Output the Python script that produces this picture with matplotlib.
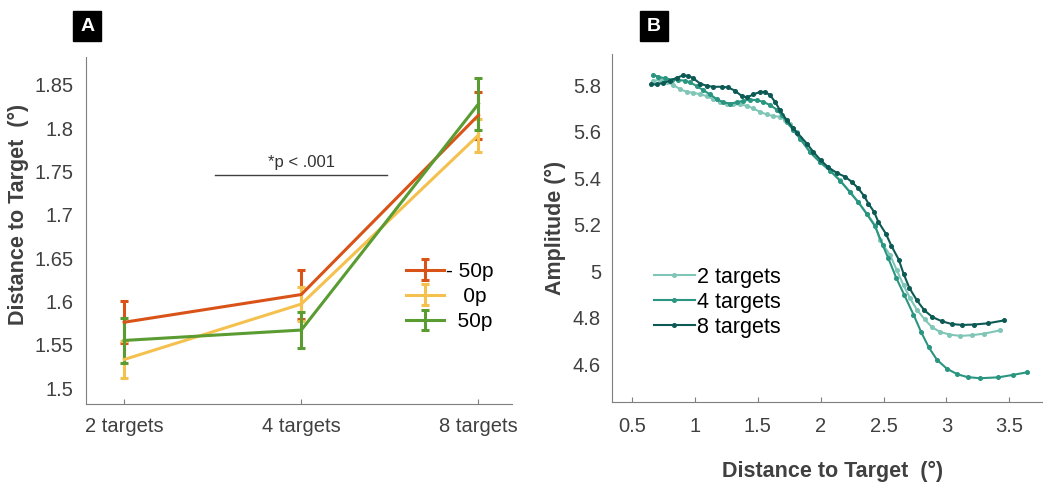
import matplotlib.pyplot as plt
import numpy as np

plt.rcParams['font.family'] = ['Liberation Sans', 'DejaVu Sans']

# --- панель A: расстояние до цели ---
conditions = ['2 targets', '4 targets', '8 targets']
m50_mean = [1.576, 1.608, 1.815]
m50_err = [0.024, 0.028, 0.027]
p0_mean = [1.533, 1.597, 1.792]
p0_err = [0.021, 0.020, 0.019]
p50_mean = [1.555, 1.567, 1.828]
p50_err = [0.026, 0.021, 0.030]

# --- панель B: амплитуда от расстояния ---
x2 = [0.669, 0.723, 0.776, 0.829, 0.882, 0.935, 0.988, 1.041, 1.094, 1.147, 1.200,
      1.253, 1.306, 1.359, 1.412, 1.465, 1.518, 1.571, 1.624, 1.677, 1.717, 1.757,
      1.810, 1.837, 1.916, 1.996, 2.075, 2.155, 2.234, 2.300, 2.367, 2.433, 2.473,
      2.553, 2.606, 2.659, 2.712, 2.765, 2.826, 2.884, 2.950, 3.024, 3.109, 3.202,
      3.303, 3.427]
y2 = [5.819, 5.822, 5.814, 5.800, 5.783, 5.771, 5.767, 5.761, 5.753, 5.740, 5.728,
      5.721, 5.718, 5.717, 5.711, 5.700, 5.685, 5.674, 5.667, 5.664, 5.652, 5.632,
      5.599, 5.573, 5.515, 5.470, 5.434, 5.391, 5.341, 5.298, 5.248, 5.198, 5.133,
      5.069, 5.004, 4.940, 4.883, 4.835, 4.794, 4.760, 4.739, 4.728, 4.722, 4.725,
      4.732, 4.746]

x4 = [0.665, 0.710, 0.763, 0.816, 0.869, 0.922, 0.961, 1.015, 1.067, 1.121, 1.174,
      1.226, 1.280, 1.333, 1.385, 1.439, 1.492, 1.545, 1.598, 1.651, 1.691, 1.731,
      1.783, 1.837, 1.916, 1.996, 2.075, 2.155, 2.234, 2.300, 2.367, 2.433, 2.494,
      2.539, 2.600, 2.666, 2.738, 2.799, 2.860, 2.924, 3.004, 3.088, 3.168, 3.268,
      3.414, 3.526, 3.645]
y4 = [5.843, 5.836, 5.829, 5.824, 5.822, 5.819, 5.812, 5.796, 5.778, 5.760, 5.740,
      5.726, 5.721, 5.726, 5.733, 5.738, 5.735, 5.728, 5.714, 5.695, 5.671, 5.642,
      5.606, 5.569, 5.511, 5.468, 5.432, 5.389, 5.339, 5.296, 5.246, 5.193, 5.112,
      5.055, 4.973, 4.897, 4.814, 4.739, 4.673, 4.620, 4.581, 4.557, 4.545, 4.540,
      4.544, 4.554, 4.566]

x8 = [0.651, 0.696, 0.749, 0.802, 0.856, 0.908, 0.948, 0.988, 1.041, 1.094, 1.147,
      1.214, 1.266, 1.319, 1.373, 1.412, 1.465, 1.518, 1.558, 1.598, 1.638, 1.677,
      1.731, 1.783, 1.815, 1.890, 1.942, 2.001, 2.062, 2.128, 2.195, 2.248, 2.300,
      2.346, 2.380, 2.425, 2.459, 2.518, 2.563, 2.621, 2.659, 2.706, 2.765, 2.825,
      2.889, 2.964, 3.043, 3.128, 3.223, 3.327, 3.462]
y8 = [5.804, 5.803, 5.810, 5.819, 5.832, 5.842, 5.840, 5.829, 5.807, 5.797, 5.793,
      5.793, 5.790, 5.776, 5.753, 5.747, 5.760, 5.771, 5.771, 5.757, 5.728, 5.692,
      5.649, 5.614, 5.595, 5.549, 5.513, 5.477, 5.446, 5.423, 5.406, 5.384, 5.356,
      5.323, 5.291, 5.255, 5.212, 5.162, 5.109, 5.050, 4.990, 4.928, 4.875, 4.832,
      4.803, 4.785, 4.773, 4.769, 4.771, 4.776, 4.789]

txt = '#404040'
spine = '#7f7f7f'

fig = plt.figure(figsize=(10.43, 4.84), dpi=100)
axA = fig.add_axes([0.0825, 0.165, 0.4085, 0.717])
axB = fig.add_axes([0.5868, 0.169, 0.4122, 0.719])

for ax in (axA, axB):
    ax.spines['top'].set_visible(False)
    ax.spines['right'].set_visible(False)
    for s in ('left', 'bottom'):
        ax.spines[s].set_color(spine)
    ax.tick_params(axis='x', direction='in', length=3.5, color=spine, labelsize=14.5, labelcolor=txt)
    ax.tick_params(axis='y', length=0, labelsize=14.5, labelcolor=txt)

# Панель A
xs = np.arange(1, 4)
axA.errorbar(xs, m50_mean, yerr=m50_err, color='#d95319', lw=2.2, elinewidth=2.2,
             capsize=3, capthick=2.2, label='- 50p')
axA.errorbar(xs, p0_mean, yerr=p0_err, color='#f5c14e', lw=2.2, elinewidth=2.2,
             capsize=3, capthick=2.2, label='   0p')
axA.errorbar(xs, p50_mean, yerr=p50_err, color='#5a9b32', lw=2.2, elinewidth=2.2,
             capsize=3, capthick=2.2, label='  50p')
axA.set_xlim(0.785, 3.19)
axA.set_ylim(1.4815, 1.882)
axA.set_xticks(xs)
axA.set_xticklabels(conditions)
axA.set_yticks([1.5, 1.55, 1.6, 1.65, 1.7, 1.75, 1.8, 1.85])
axA.set_yticklabels(['1.5', '1.55', '1.6', '1.65', '1.7', '1.75', '1.8', '1.85'])
axA.tick_params(axis='x', pad=9)
axA.tick_params(axis='y', pad=9)
axA.set_ylabel('Distance to Target  (°)', fontsize=15.5, fontweight='bold', color=txt)
axA.yaxis.set_label_coords(-0.135, 0.548)
axA.plot([1.514, 2.486], [1.746, 1.746], color='#404040', lw=1)
axA.text(2.0, 1.752, '*p < .001', ha='center', va='bottom', fontsize=12, color='#333333')
axA.legend(loc='upper left', bbox_to_anchor=(0.727, 0.44), frameon=False, fontsize=15,
           handlelength=1.8, handletextpad=0.1, labelspacing=0.3, borderpad=0)

# Панель B
axB.plot(x2, y2, '-o', color='#80c6b7', lw=1.5, ms=2.6, label='2 targets')
axB.plot(x4, y4, '-o', color='#2a9580', lw=1.5, ms=2.6, label='4 targets')
axB.plot(x8, y8, '-o', color='#0d5a54', lw=1.5, ms=2.6, label='8 targets')
axB.set_xlim(0.341, 3.76)
axB.set_ylim(4.437, 5.933)
axB.set_xticks([0.5, 1, 1.5, 2, 2.5, 3, 3.5])
axB.set_xticklabels(['0.5', '1', '1.5', '2', '2.5', '3', '3.5'])
axB.set_yticks([4.6, 4.8, 5, 5.2, 5.4, 5.6, 5.8])
axB.set_yticklabels(['4.6', '4.8', '5', '5.2', '5.4', '5.6', '5.8'])
axB.tick_params(axis='x', pad=11)
axB.tick_params(axis='y', pad=8)
axB.set_ylabel('Amplitude (°)', fontsize=15.5, fontweight='bold', color=txt, labelpad=5)
axB.set_xlabel('Distance to Target  (°)', fontsize=15.5, fontweight='bold', color=txt, labelpad=18)
axB.xaxis.set_label_coords(0.514, -0.17)
axB.legend(loc='upper left', bbox_to_anchor=(0.072, 0.42), frameon=False, fontsize=15.5,
           handlelength=1.9, handletextpad=0.1, labelspacing=0.18, borderpad=0)

# Метки панелей
for lab, xc in (('A', 0.0835), ('B', 0.627)):
    fig.text(xc, 0.946, lab, ha='center', va='center', color='white', fontsize=14,
             fontweight='bold', bbox=dict(boxstyle='square,pad=0.35', fc='black', ec='black'))

fig.savefig('out.png', dpi=100)
